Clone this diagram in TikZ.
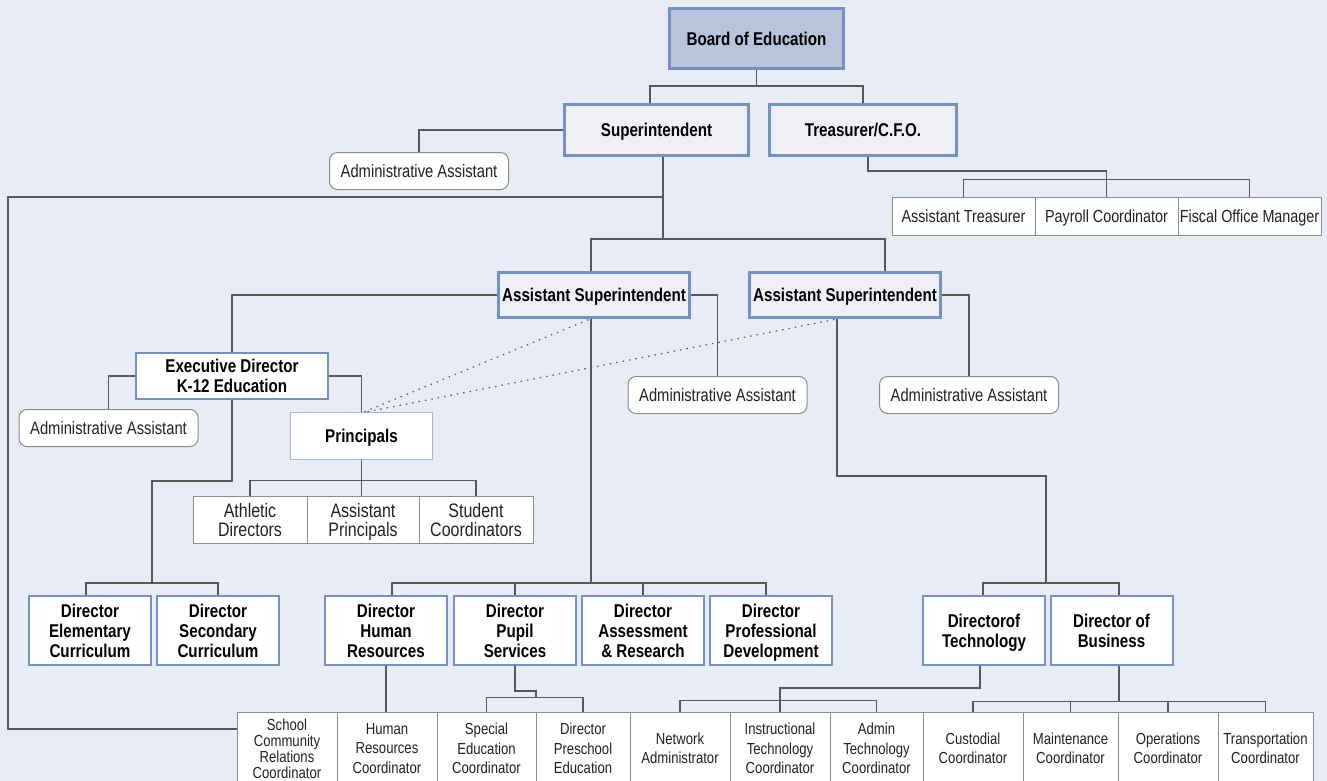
\documentclass[tikz,border=0pt]{standalone}
\usepackage{fontspec}
\setmainfont[FakeStretch=0.82]{Liberation Sans}
\usetikzlibrary{positioning}

\definecolor{pagebg}{HTML}{E8ECF4}
\definecolor{boardfill}{HTML}{B8C4DC}
\definecolor{boxblue}{HTML}{7391C4}
\definecolor{paleblue}{HTML}{A3B6DA}
\definecolor{toplight}{HTML}{EEF0F6}
\definecolor{linegray}{HTML}{585858}
\definecolor{staffgray}{HTML}{8C8C8C}
\definecolor{inkgray}{HTML}{222222}

\tikzset{
  topbox/.style={draw=boxblue, line width=3pt, fill=toplight, inner sep=0pt, align=center,
    text depth=0pt, font=\fontsize{18.5}{20}\selectfont\bfseries},
  dirbox/.style={draw=boxblue, line width=2pt, fill=white, inner sep=0pt, align=center,
    text depth=0pt, minimum width=122, minimum height=69, font=\fontsize{18.5}{20}\selectfont\bfseries},
  assist/.style={draw=staffgray, line width=1pt, fill=white, rounded corners=8pt, inner sep=0pt,
    minimum width=179, minimum height=37, text=inkgray, font=\fontsize{18}{20}\selectfont},
  staff/.style={draw=staffgray, line width=1pt, fill=white, inner sep=0pt, align=center,
    text=inkgray, font=\fontsize{16}{19.5}\selectfont},
  teambox/.style={staff, text depth=0pt, font=\fontsize{19.5}{19}\selectfont, minimum height=47},
  fiscal/.style={staff, text depth=0pt, font=\fontsize{17.5}{20}\selectfont, minimum width=143, minimum height=38},
  lowbox/.style={staff, minimum height=73},
  link/.style={draw=linegray, line width=1.3pt},
  dotlink/.style={draw=linegray, line width=1.2pt, dash pattern=on 1.5pt off 5pt}
}

\begin{document}
\begin{tikzpicture}[x=1pt,y=-1pt]
\def\yDir{630.5}
\def\yLow{748.5}
\def\yTeam{519.5}

\fill[pagebg] (0,0) rectangle (1327,781);
\useasboundingbox (0,0) rectangle (1327,781);
\clip (0,0) rectangle (1327,781);

\node[topbox, fill=boardfill, minimum width=174, minimum height=60] (board) at (756.5,38.5) {Board of Education};
\node[topbox, minimum width=184, minimum height=51] (supt) at (656.5,130) {Superintendent};
\node[topbox, minimum width=187, minimum height=51] (treas) at (863,130) {Treasurer/C.F.O.};
\node[assist] (aa1) at (419,171) {Administrative Assistant};

\node[fiscal] (atr) at (963.5,216) {Assistant Treasurer};
\node[fiscal] (pc) at (1106.5,216) {Payroll Coordinator};
\node[fiscal] (fom) at (1249.5,216) {Fiscal Office Manager};

\node[topbox, minimum width=191, minimum height=45] (as1) at (594,295) {Assistant Superintendent};
\node[topbox, minimum width=191, minimum height=45] (as2) at (845,295) {Assistant Superintendent};
\node[assist] (aa2) at (717.5,395) {Administrative Assistant};
\node[assist] (aa3) at (969,395) {Administrative Assistant};

\node[dirbox, minimum width=192, minimum height=46] (exec) at (232,376) {Executive Director\\K-12 Education};
\node[assist] (aa0) at (108.5,428) {Administrative Assistant};
\node[dirbox, draw=paleblue, line width=1.5pt, minimum width=142, minimum height=47] (prin) at (361.5,436) {Principals};

\node[teambox, minimum width=114] (ath) at (250,\yTeam) {Athletic\\Directors};
\node[teambox, minimum width=112] (ap) at (363,\yTeam) {Assistant\\Principals};
\node[teambox, minimum width=114] (sc) at (476,\yTeam) {Student\\Coordinators};

\node[dirbox] (de) at (90,\yDir) {Director\\Elementary\\Curriculum};
\node[dirbox] (ds) at (218,\yDir) {Director\\Secondary\\Curriculum};
\node[dirbox] (dhr) at (386,\yDir) {Director\\Human\\Resources};
\node[dirbox] (dps) at (515,\yDir) {Director\\Pupil\\Services};
\node[dirbox] (dar) at (643,\yDir) {Director\\Assessment\\\& Research};
\node[dirbox] (dpd) at (771,\yDir) {Director\\Professional\\Development};
\node[dirbox] (dt) at (984,\yDir) {Directorof\\Technology};
\node[dirbox] (db) at (1111.5,\yDir) {Director of\\Business};

\node[lowbox, font=\fontsize{16}{16}\selectfont, minimum width=100] (scr) at (287,\yLow) {School\\Community\\Relations\\Coordinator};
\node[lowbox, minimum width=100] (hrc) at (387,\yLow) {Human\\Resources\\Coordinator};
\node[lowbox, minimum width=99] (sec) at (486.5,\yLow) {Special\\Education\\Coordinator};
\node[lowbox, minimum width=94] (dpe) at (583,\yLow) {Director\\Preschool\\Education};
\node[lowbox, minimum width=100] (na) at (680,\yLow) {Network\\Administrator};
\node[lowbox, minimum width=100] (itc) at (780,\yLow) {Instructional\\Technology\\Coordinator};
\node[lowbox, minimum width=93] (atc) at (876.5,\yLow) {Admin\\Technology\\Coordinator};
\node[lowbox, minimum width=100] (cc) at (973,\yLow) {Custodial\\Coordinator};
\node[lowbox, minimum width=95] (mc) at (1070.5,\yLow) {Maintenance\\Coordinator};
\node[lowbox, minimum width=100] (oc) at (1168,\yLow) {Operations\\Coordinator};
\node[lowbox, minimum width=95] (tc) at (1265.5,\yLow) {Transportation\\Coordinator};

\coordinate (bj) at (756.5,86);
\coordinate (sj) at (663,239);
\coordinate (sl) at (663,197);
\coordinate (lj) at (8,729);
\coordinate (ej) at (152,583);
\coordinate (aj) at (591,583);
\coordinate (tj) at (1046,583);

\draw[link] (board) -- (bj);
\draw[link] ([xshift=-6.5pt]supt.north) |- (bj) -| (treas.north);
\draw[link] (supt.west) -| (aa1.north);
\draw[link] ([xshift=6.5pt]supt.south) -- (sj);
\draw[link] ([xshift=-3pt]as1.north) |- (sj) -| ([xshift=40pt]as2.north);
\draw[link] (sl) -| (lj) -- (lj -| scr.west);

\draw[link] ([xshift=5pt]treas.south) -- ++(0,14) -| (pc.north);
\draw[link] (atr.north) -- ++(0,-17) -| (fom.north);

\draw[link] (as1.west) -| (exec.north);
\draw[link] (as1.east) -| (aa2.north);
\draw[link] (as2.east) -| (aa3.north);
\draw[link] (exec.west) -| (aa0.north);
\draw[link] (exec.east) -| (prin.north);
\draw[dotlink] ([xshift=3pt]prin.north) -- ([xshift=-4pt]as1.south);
\draw[dotlink] ([xshift=6pt]prin.north) -- ([xshift=-8pt]as2.south);

\draw[link] (prin.south) -- (prin.south |- ap.north);
\draw[link] (ath.north) -- ++(0,-15) -| (sc.north);

\draw[link] (exec.south) -- ++(0,81) -| (ej);
\draw[link] ([xshift=-4pt]de.north) |- (ej) -| (ds.north);

\draw[link] ([xshift=-3pt]as1.south) -- (aj);
\draw[link] ([xshift=6pt]dhr.north) |- (aj) -| ([xshift=-5pt]dpd.north);
\draw[link] (dps.north) -- (dps.north |- aj);
\draw[link] (dar.north) -- (dar.north |- aj);

\draw[link] ([xshift=-8pt]as2.south) -- ++(0,157) -| (tj);
\draw[link] ([xshift=-1pt]dt.north) |- (tj) -| ([xshift=7.5pt]db.north);

\draw[link] (dhr.south) -- (dhr.south |- hrc.north);
\draw[link] (dps.south) -- ++(0,25) -| ++(21,7);
\draw[link] (sec.north) -- ++(0,-14) -| (dpe.north);
\draw[link] ([xshift=-4pt]dt.south) -- ++(0,22) -| (itc.north);
\draw[link] (na.north) -- ++(0,-11) -| (atc.north);
\draw[link] ([xshift=7.5pt]db.south) -- ++(0,36);
\draw[link] (cc.north) -- ++(0,-10) -| (tc.north);
\draw[link] (mc.north) -- ++(0,-10);
\draw[link] (oc.north) -- ++(0,-10);
\end{tikzpicture}
\end{document}
